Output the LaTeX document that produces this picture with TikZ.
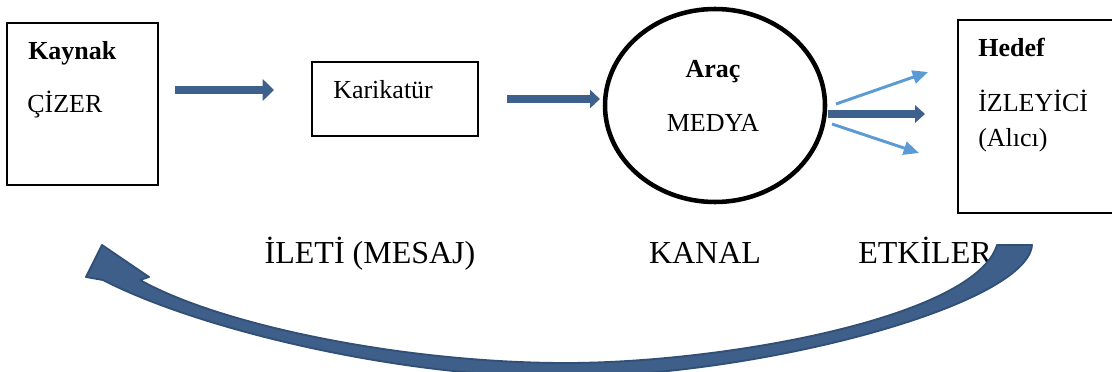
\documentclass[tikz,border=0pt]{standalone}
\usepackage{fontspec}
\setmainfont{Liberation Serif}
\usetikzlibrary{arrows.meta,shapes.geometric}
\definecolor{blockblue}{RGB}{61,96,141}
\definecolor{fbfill}{RGB}{62,95,138}
\definecolor{fbline}{RGB}{50,80,118}
\definecolor{lightblue}{RGB}{91,155,213}
\tikzset{
  frame/.style={draw=black, line width=1.5pt, inner sep=0pt, fill=none},
  txt/.style={anchor=base west, inner sep=0pt, font=\fontsize{19.5}{23}\selectfont},
  txtc/.style={anchor=base, inner sep=0pt, font=\fontsize{19.5}{23}\selectfont},
  lbl/.style={anchor=base, inner sep=0pt, font=\fontsize{24}{28}\selectfont},
  blockarrow/.style={draw=blockblue, line width=#1},
  thinarrow/.style={draw=lightblue, line width=2.2pt,
    -{Triangle[length=11.5pt,width=10pt]}},
}
\begin{document}
\begin{tikzpicture}[x=0.75pt,y=-0.75pt]
\useasboundingbox (0,0) rectangle (1112,371);

% boxes and the medium circle
\node (src) [frame, minimum width=151*0.75pt, minimum height=162*0.75pt] at (82.5,104) {};
\node (msg) [frame, line width=1.2pt, minimum width=166*0.75pt, minimum height=74*0.75pt] at (395,99) {};
\node (med) [draw=black, line width=3.4pt, ellipse, minimum width=220*0.75pt, minimum height=193*0.75pt, inner sep=0pt] at (715,105.5) {};
\node (dst) [frame, minimum width=170*0.75pt, minimum height=193*0.75pt] at (1043,116.5) {};

% box texts
\node (srcA) [txt] at (28,59) {\textbf{Kaynak}};
\node (srcB) [txt] at (27,112) {ÇİZER};
\node (msgA) [txt] at (333,98) {Karikatür};
\node (medA) [txtc] at (713,77) {\textbf{Araç}};
\node (medB) [txtc] at (713,131) {MEDYA};
\node (dstA) [txt] at (978,56) {\textbf{Hedef}};
\node (dstB) [txt] at (978,111) {İZLEYİCİ};
\node (dstC) [txt] at (978,146) {(Alıcı)};

% labels below
\node (lMsg) [lbl] at (370,263) {İLETİ (MESAJ)};
\node (lKan) [lbl] at (705,263) {KANAL};
\node (lEtk) [lbl] at (925,263) {ETKİLER};

% end points of the straight arrows
\coordinate (a1s) at (175,90);
\coordinate (a1e) at (274,90);
\coordinate (a2s) at (507,99);
\coordinate (a2e) at (600,99);
\coordinate (a3s) at (828,114);
\coordinate (a3e) at (925,114);
\coordinate (a4s) at (836,104);
\coordinate (a4e) at (928,72);
\coordinate (a5s) at (832,124);
\coordinate (a5e) at (919,153);

\draw[blockarrow=6.5pt, -{Triangle[length=8.5pt,width=16pt]}] (a1s) -- (a1e);
\draw[blockarrow=5.5pt, -{Triangle[length=7.5pt,width=13.5pt]}] (a2s) -- (a2e);
\draw[blockarrow=6pt, -{Triangle[length=7.5pt,width=13pt]}] (a3s) -- (a3e);
\draw[thinarrow] (a4s) -- (a4e);
\draw[thinarrow] (a5s) -- (a5e);

% feedback arrow from the effects back to the source
\coordinate (fbTail) at (1015,245);
\coordinate (fbTip) at (102,245);
\filldraw[fill=fbfill, draw=fbline, line width=1.4pt, line join=round]
  (1032,245) .. controls (1027,305) and (760,377) .. (560,377)
  .. controls (400,377) and (200,330) .. (103,280)
  -- (86,277) -- (fbTip) -- (149,277) -- (140,280)
  .. controls (220,325) and (400,362) .. (560,363)
  .. controls (720,364) and (975,318) .. (997,245) -- cycle;
\end{tikzpicture}
\end{document}
